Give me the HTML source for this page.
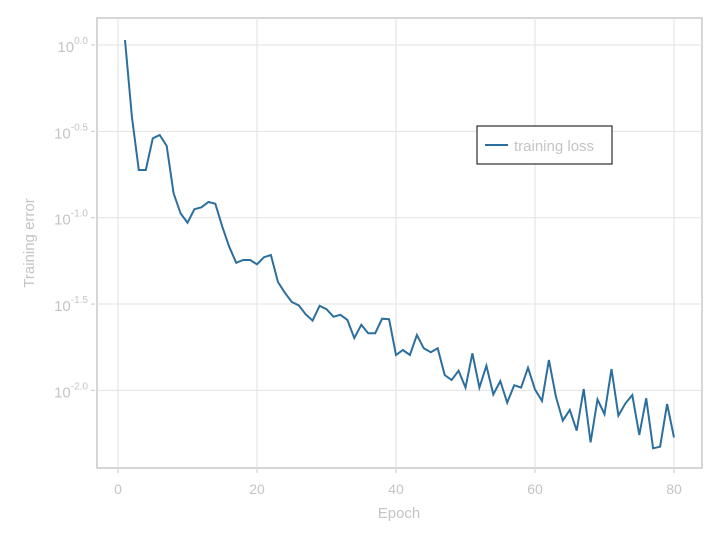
<!DOCTYPE html>
<html><head><meta charset="utf-8"><style>
body{margin:0;background:#fff;}
svg text{font-family:"Liberation Sans",sans-serif;fill:#c4c4c4;}
</style></head><body>
<svg id="chart" width="720" height="540">
  <rect x="97" y="18" width="605" height="450" fill="#fff" stroke="#c8c8c8" stroke-width="1.5"/>
  <g id="grid"></g>
  <g id="axes"></g>
  <path id="line" fill="none" stroke="#2c6f9e" stroke-width="2"/>
  <text x="399" y="518" font-size="15" text-anchor="middle">Epoch</text>
  <text transform="translate(34,243) rotate(-90)" font-size="15" text-anchor="middle">Training error</text>
  <g>
    <rect x="477" y="126" width="135" height="38" fill="#fff" stroke="#000" stroke-width="1"/>
    <line x1="485" y1="145" x2="508" y2="145" stroke="#2c6f9e" stroke-width="2"/>
    <text x="514" y="151" font-size="15">training loss</text>
  </g>
</svg>
<script>
const epochs = Array.from({length:80},(_,i)=>i+1);
const logLoss = [0.029,-0.415,-0.724,-0.724,-0.540,-0.521,-0.585,-0.859,-0.975,-1.029,
-0.951,-0.940,-0.909,-0.919,-1.052,-1.168,-1.261,-1.245,-1.245,-1.270,
-1.229,-1.216,-1.372,-1.434,-1.488,-1.507,-1.559,-1.596,-1.510,-1.530,
-1.573,-1.562,-1.592,-1.697,-1.620,-1.669,-1.669,-1.585,-1.588,-1.795,
-1.766,-1.795,-1.679,-1.756,-1.779,-1.756,-1.911,-1.940,-1.886,-1.984,
-1.785,-1.984,-1.857,-2.023,-1.946,-2.071,-1.970,-1.984,-1.869,-1.994,
-2.061,-1.824,-2.036,-2.175,-2.113,-2.233,-1.992,-2.301,-2.052,-2.137,
-1.876,-2.146,-2.075,-2.027,-2.258,-2.046,-2.335,-2.326,-2.079,-2.272];
const xTicks = [0,20,40,60,80];
const yTicks = [0,-0.5,-1,-1.5,-2];
const yTickLabels = ["0.0","-0.5","-1.0","-1.5","-2.0"];

const X = e => 118 + e*6.95;
const Y = v => 45 - v*172.7;
const NS="http://www.w3.org/2000/svg";
const grid=document.getElementById('grid'), axes=document.getElementById('axes');
function mk(tag,attrs,parent){const el=document.createElementNS(NS,tag);for(const k in attrs)el.setAttribute(k,attrs[k]);parent.appendChild(el);return el;}
xTicks.forEach(t=>{
  const g=mk('line',{x1:X(t),x2:X(t),y1:18,y2:468,stroke:'#e2e2e2','stroke-width':1},grid);
  
  
  const tk=mk('line',{x1:X(t),x2:X(t),y1:469,y2:473,stroke:'#c8c8c8'},axes);
  
  
  const tx=mk('text',{x:X(t),y:494,'font-size':14,'text-anchor':'middle'},axes);
  tx.textContent=t;
  
  
});
yTicks.forEach((t,i)=>{
  const g=mk('line',{x1:97,x2:702,y1:Y(t),y2:Y(t),stroke:'#e2e2e2','stroke-width':1},grid);
  
  
  const tk=mk('line',{x1:91,x2:95,y1:Y(t),y2:Y(t),stroke:'#c8c8c8'},axes);
  
  
  const tx=mk('text',{x:88,y:Y(t)+7,'font-size':15,'text-anchor':'end'},axes);
  
  
  const a=mk('tspan',{},tx); a.textContent='10';
  const b=mk('tspan',{dy:-8,'font-size':10},tx); b.textContent=yTickLabels[i];
});
document.getElementById('line').setAttribute('d',logLoss.map((v,i)=>(i?'L':'M')+X(epochs[i]).toFixed(1)+','+Y(v).toFixed(1)).join(''));
</script>
</body></html>
